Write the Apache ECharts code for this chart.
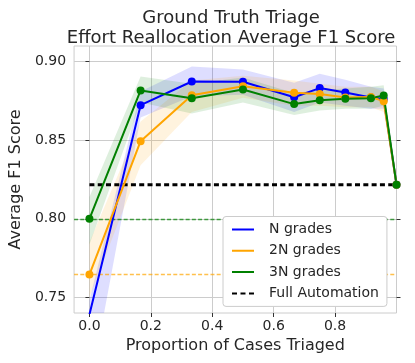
<!DOCTYPE html>
<html><head><meta charset="utf-8">
<script src="https://cdn.jsdelivr.net/npm/echarts@6/dist/echarts.min.js"></script>
<style>html,body{margin:0;padding:0;background:#fff}#c{width:415px;height:363px}</style>
</head><body><div id="c"></div>
<script>
// ---- data ----
const proportions = [0, 1/6, 1/3, 1/2, 2/3, 3/4, 5/6, 11/12, 23/24, 1];

const nGrades      = [0.739, 0.8723, 0.8874, 0.8872, 0.8774, 0.8832, 0.8804, 0.8772, 0.8762, 0.8217];
const nGradesLow   = [0.690, 0.8645, 0.878,  0.879,  0.868,  0.874,  0.872,  0.870,  0.870,  0.8217];
const nGradesHigh  = [0.748, 0.881,  0.897,  0.895,  0.8866, 0.8923, 0.8885, 0.884,  0.883,  0.8217];

const n2Grades     = [0.7645, 0.8494, 0.8787, 0.8844, 0.8802, 0.8794, 0.8772, 0.8775, 0.8749, 0.8217];
const n2GradesLow  = [0.750,  0.834,  0.868,  0.877,  0.872,  0.872,  0.871,  0.871,  0.868,  0.8217];
const n2GradesHigh = [0.785,  0.862,  0.888,  0.891,  0.888,  0.886,  0.884,  0.884,  0.881,  0.8217];

const n3Grades     = [0.800,  0.8817, 0.8768, 0.8823, 0.8730, 0.8755, 0.8764, 0.8768, 0.8785, 0.8217];
const n3GradesLow  = [0.7836, 0.874,  0.867,  0.874,  0.866,  0.869,  0.870,  0.870,  0.872,  0.8217];
const n3GradesHigh = [0.8138, 0.8906, 0.886,  0.890,  0.880,  0.882,  0.883,  0.884,  0.885,  0.8217];

const fullAutomationX = [0, 1];
const fullAutomation  = [0.8217, 0.8217];

const xTicks = [0, 0.2, 0.4, 0.6, 0.8];
const yTicks = [0.75, 0.80, 0.85, 0.90];
const seriesNames = ['N grades', '2N grades', '3N grades', 'Full Automation'];

// ---- build ----
const FONT = 'DejaVu Sans';
const TXT = '#262626';
const COLORS = ['#0000ff', '#ffa500', '#008000'];
const pair = (xs, ys) => xs.map((x, i) => [x, ys[i]]);

function band(low, high, color, key) {
  return {
    type: 'custom', name: key, silent: true, z: 1,
    data: proportions.map((x, i) => [x, low[i], high[i]]),
    encode: { x: 0, y: [1, 2] },
    renderItem: function (params, api) {
      if (params.dataIndexInside !== 0) return null;
      const n = params.dataInsideLength;
      const top = [], bot = [];
      for (let i = 0; i < n; i++) {
        const x = api.value(0, i);
        top.push(api.coord([x, api.value(2, i)]));
        bot.push(api.coord([x, api.value(1, i)]));
      }
      const pts = top.concat(bot.reverse());
      const cs = params.coordSys;
      return {
        type: 'polygon',
        shape: { points: pts },
        style: { fill: color, opacity: 0.13 },
        clipPath: { type: 'rect', shape: { x: cs.x, y: cs.y, width: cs.width, height: cs.height } }
      };
    }
  };
}
function mainLine(name, vals, color, ref) {
  const s = { type: 'line', name: name, data: pair(proportions, vals), symbol: 'circle', symbolSize: 8,
    showSymbol: true, color: color, lineStyle: { width: 2, color: color }, itemStyle: { color: color }, z: 3 };
  if (ref) {
    s.markLine = { silent: true, z: 2, precision: 5, symbol: ['none', 'none'], label: { show: false },
      lineStyle: { color: color, type: [4, 2.2], width: 1.3, opacity: 0.7 },
      data: [{ yAxis: vals[0] }] };
  }
  return s;
}

const series = [
  band(nGradesLow, nGradesHigh, COLORS[0], 'bandN'),
  band(n2GradesLow, n2GradesHigh, COLORS[1], 'band2N'),
  band(n3GradesLow, n3GradesHigh, COLORS[2], 'band3N'),
  { type: 'line', name: seriesNames[3], data: pair(fullAutomationX, fullAutomation), symbol: 'none',
    color: '#000', lineStyle: { color: '#000', width: 3, type: [5, 3.3] }, z: 2 },
  mainLine(seriesNames[0], nGrades, COLORS[0], false),
  mainLine(seriesNames[1], n2Grades, COLORS[1], true),
  mainLine(seriesNames[2], n3Grades, COLORS[2], true)
];

const solidIcon = 'path://M0,0h22v2h-22z M32,1h0.01';
const dashIcon = 'path://M0,0h5v2h-5z M8.5,0h5v2h-5z M17,0h5v2h-5z M32,1h0.01';

const option = {
  animation: false,
  backgroundColor: '#fff',
  title: {
    text: 'Ground Truth Triage\nEffort Reallocation Average F1 Score',
    left: 231, top: 8, textAlign: 'center', padding: 0,
    textStyle: { fontFamily: FONT, fontSize: 18, fontWeight: 'normal', color: TXT, lineHeight: 20 }
  },
  grid: { left: 66.7, right: 18.5, top: 46, bottom: 50, show: true, borderColor: '#cccccc', borderWidth: 1 },
  legend: {
    orient: 'vertical', left: 223, top: 216.5, z: 10,
    backgroundColor: '#fff', borderColor: '#cccccc', borderWidth: 1, borderRadius: 3,
    padding: [6, 8, 6, 9], itemGap: 7.3, itemWidth: 32, itemHeight: 2,
    textStyle: { fontFamily: FONT, fontSize: 14, color: TXT },
    data: [
      { name: seriesNames[0], icon: solidIcon, itemStyle: { color: COLORS[0] } },
      { name: seriesNames[1], icon: solidIcon, itemStyle: { color: COLORS[1] } },
      { name: seriesNames[2], icon: solidIcon, itemStyle: { color: COLORS[2] } },
      { name: seriesNames[3], icon: dashIcon, itemStyle: { color: '#000' } }
    ]
  },
  xAxis: {
    type: 'value', min: -0.05, max: 1.0,
    name: 'Proportion of Cases Triaged', nameLocation: 'middle', nameGap: 25,
    nameTextStyle: { fontFamily: FONT, fontSize: 16, color: TXT },
    axisLine: { show: false },
    axisTick: { show: true, customValues: xTicks, length: 4, lineStyle: { color: '#333' } },
    axisLabel: { customValues: xTicks, formatter: v => v.toFixed(1), fontFamily: FONT, fontSize: 14, color: TXT, margin: 6 },
    splitLine: { show: true, lineStyle: { color: '#cccccc', width: 1 } }
  },
  yAxis: [
    {
      type: 'value', min: 0.74, max: 0.91, position: 'left',
      name: 'Average F1 Score', nameLocation: 'middle', nameGap: 44, nameRotate: 90,
      nameTextStyle: { fontFamily: FONT, fontSize: 16, color: TXT },
      axisLine: { show: false },
      axisTick: { show: true, customValues: yTicks, length: 4, lineStyle: { color: '#333' } },
      axisLabel: { customValues: yTicks, formatter: v => v.toFixed(2), fontFamily: FONT, fontSize: 14, color: TXT, margin: 8 },
      splitLine: { show: true, lineStyle: { color: '#cccccc', width: 1 } }
    },
    {
      type: 'value', min: 0.74, max: 0.91, position: 'right',
      axisLine: { show: false },
      axisTick: { show: true, customValues: yTicks, length: 4, lineStyle: { color: '#333' } },
      axisLabel: { show: false },
      splitLine: { show: false }
    }
  ],
  series: series
};

const chart = echarts.init(document.getElementById('c'), null, { renderer: 'canvas' });
chart.setOption(option);
</script>
</body></html>
